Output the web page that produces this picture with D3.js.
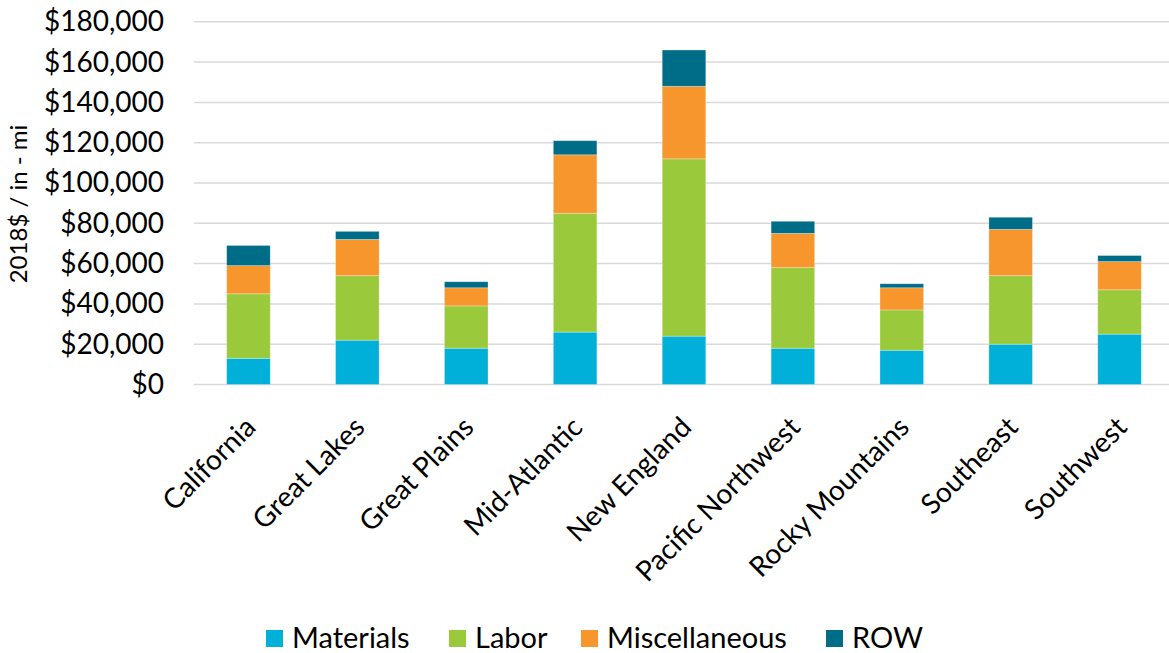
<!DOCTYPE html>
<html>
<head>
<meta charset="utf-8">
<script src="https://cdn.jsdelivr.net/npm/d3@7"></script>
<style>
    body { margin: 0; background: #fff; }
    text { font-family: Lato, "Open Sans", sans-serif; fill: #000; }
</style>
</head>
<body>
<div id="chart"></div>
<script>
// cost components per region, 2018$ per inch-mile
var regions = ["California", "Great Lakes", "Great Plains", "Mid-Atlantic", "New England",
    "Pacific Northwest", "Rocky Mountains", "Southeast", "Southwest"];
var materials = [13000, 22000, 18000, 26000, 24000, 18000, 17000, 20000, 25000];
var labor = [32000, 32000, 21000, 59000, 88000, 40000, 20000, 34000, 22000];
var misc = [14000, 18000, 9000, 29000, 36000, 17000, 11000, 23000, 14000];
var row = [10000, 4000, 3000, 7000, 18000, 6000, 2000, 6000, 3000];
var seriesNames = ["Materials", "Labor", "Miscellaneous", "ROW"];
var seriesColors = ["#00b0d8", "#9aca3c", "#f7962c", "#006d88"];
var yTicks = [0, 20000, 40000, 60000, 80000, 100000, 120000, 140000, 160000, 180000];

var width = 1169, height = 653;
var margin = {top: 21.8, left: 194, bottom: 653 - 384.5};

var svg = d3.select("#chart").append("svg")
    .attr("width", width)
    .attr("height", height);

// build rows for the stack
var table = regions.map(function (r, i) {
    return {region: r, Materials: materials[i], Labor: labor[i], Miscellaneous: misc[i], ROW: row[i]};
});
var stacked = d3.stack().keys(seriesNames)(table);

var x = d3.scaleBand()
    .domain(regions)
    .range([margin.left, margin.left + 980])
    .paddingInner(0.6)
    .paddingOuter(0.3);

var y = d3.scaleLinear()
    .domain([0, 180000])
    .range([384.5, margin.top]);

// gridlines
svg.append("g")
    .selectAll("line")
    .data(yTicks)
    .enter().append("line")
    .attr("x1", margin.left)
    .attr("x2", width)
    .attr("y1", function (d) { return y(d); })
    .attr("y2", function (d) { return y(d); })
    .attr("stroke", "#d9d9d9")
    .attr("stroke-width", 1.5);

// y axis labels
var fmt = d3.format(",");
var yAxis = d3.axisLeft(y)
    .tickValues(yTicks)
    .tickSize(0)
    .tickPadding(0)
    .tickFormat(function (d) { return "$" + fmt(d); });
svg.append("g")
    .attr("transform", "translate(164,0)")
    .call(yAxis)
    .call(function (g) { g.select(".domain").remove(); })
    .selectAll("text")
    .style("font-size", "28px")
    .style("font-family", "Lato, sans-serif")
    .attr("fill", "#000");

// y axis title
svg.append("text")
    .attr("transform", "translate(27,204) rotate(-90)")
    .attr("text-anchor", "middle")
    .style("font-size", "24px")
    .text("2018$ / in - mi");

// bars
svg.append("g")
    .selectAll("g")
    .data(stacked)
    .enter().append("g")
    .attr("fill", function (d, i) { return seriesColors[i]; })
    .selectAll("rect")
    .data(function (d) { return d; })
    .enter().append("rect")
    .attr("x", function (d) { return x(d.data.region); })
    .attr("width", x.bandwidth())
    .attr("y", function (d) { return y(d[1]); })
    .attr("height", function (d) { return y(d[0]) - y(d[1]); })
    .attr("stroke", "#ffffff")
    .attr("stroke-opacity", 0.35)
    .attr("stroke-width", 0.8);

// x axis labels, rotated
svg.append("g")
    .selectAll("text")
    .data(regions)
    .enter().append("text")
    .attr("transform", function (d) {
        return "translate(" + (x(d) + x.bandwidth() / 2 + 9) + ",429) rotate(-45)";
    })
    .attr("text-anchor", "end")
    .style("font-size", "28px")
    .text(function (d) { return d; });

// legend
var legend = svg.append("g").attr("class", "legend");
var legendX = [266, 449, 581, 826];
seriesNames.forEach(function (name, i) {
    var item = legend.append("g")
        .attr("transform", "translate(" + legendX[i] + ",630)");
    item.append("rect")
        .attr("width", 17)
        .attr("height", 17)
        .attr("fill", seriesColors[i]);
    item.append("text")
        .attr("x", 26)
        .attr("y", 18)
        .style("font-size", "29px")
        .text(name);
});
</script>
</body>
</html>
